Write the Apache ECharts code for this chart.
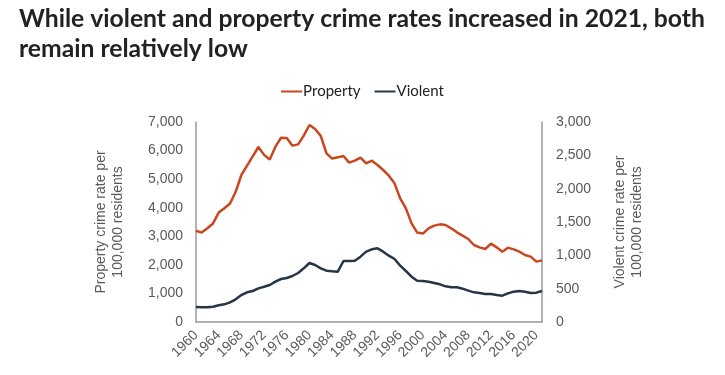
<!DOCTYPE html>
<html>
<head>
<meta charset="utf-8">
<script src="https://cdn.jsdelivr.net/npm/echarts@6/dist/echarts.min.js"></script>
<style>
  html, body { margin: 0; padding: 0; background: #fff; }
  #chart { width: 725px; height: 375px; }
</style>
</head>
<body>
<div id="chart"></div>
<script>
const years = [];
for (let y = 1960; y <= 2021; y++) years.push(String(y));

const property = [
  3190, 3130, 3280, 3450, 3830, 3980, 4150, 4560, 5145, 5470,
  5800, 6125, 5850, 5690, 6137, 6450, 6440, 6172, 6218, 6522,
  6895, 6755, 6510, 5903, 5720, 5763, 5810, 5577, 5647, 5752,
  5553, 5647, 5495, 5320, 5122, 4853, 4328, 3978, 3453, 3130,
  3095, 3278, 3372, 3418, 3395, 3278, 3138, 3022, 2905, 2695,
  2613, 2555, 2742, 2613, 2462, 2602, 2543, 2462, 2345, 2287,
  2112, 2158
];

const violent = [
  225, 220, 220, 230, 250, 265, 295, 340, 405, 445,
  465, 505, 528, 555, 605, 645, 660, 690, 735, 805,
  885, 855, 805, 770, 760, 755, 915, 915, 920, 980,
  1055, 1090, 1105, 1055, 995, 945, 845, 765, 680, 620,
  615, 605, 585, 565, 535, 520, 520, 500, 470, 445,
  435, 420, 420, 405, 395, 430, 455, 465, 455, 435,
  440, 465
];

const titleText = 'While violent and property crime rates increased in 2021, both\nremain relatively low';
const leftAxisName = 'Property crime rate per\n100,000 residents';
const rightAxisName = 'Violent crime rate per\n100,000 residents';

const fmt = v => Number(v).toLocaleString('en-US');
const axisFont = 'Liberation Sans, Arial, sans-serif';

const chart = echarts.init(document.getElementById('chart'), null, { renderer: 'canvas' });
chart.setOption({
  animation: false,
  backgroundColor: '#ffffff',
  title: {
    text: titleText,
    left: 14,
    top: -1,
    textStyle: {
      fontFamily: 'Lato, sans-serif',
      fontWeight: 'bold',
      fontSize: 24.7,
      lineHeight: 30,
      color: '#222222'
    }
  },
  legend: {
    top: 79,
    left: 'center',
    itemWidth: 21,
    itemHeight: 2,
    itemGap: 14,
    icon: 'rect',
    textStyle: { fontFamily: 'Lato, sans-serif', fontSize: 15, color: '#222222', padding: [0, 0, 0, -4] },
    data: ['Property', 'Violent']
  },
  grid: { left: 196, right: 183, top: 122, bottom: 53, containLabel: false },
  xAxis: {
    type: 'category',
    data: years,
    boundaryGap: false,
    axisLine: { show: true, lineStyle: { color: '#999999', width: 1.5 } },
    axisTick: { show: false },
    axisLabel: {
      interval: 3,
      rotate: 45,
      margin: 11,
      fontFamily: axisFont,
      fontSize: 14,
      color: '#595959'
    },
    splitLine: { show: false }
  },
  yAxis: [
    {
      type: 'value',
      min: 0, max: 7000, interval: 1000,
      name: leftAxisName,
      nameLocation: 'middle',
      nameRotate: 90,
      nameGap: 69,
      nameTextStyle: { fontFamily: axisFont, fontSize: 14, color: '#595959', lineHeight: 17 },
      axisLine: { show: true, lineStyle: { color: '#999999', width: 1.5 } },
      axisTick: { show: false },
      splitLine: { show: false },
      axisLabel: { formatter: fmt, fontFamily: axisFont, fontSize: 14, color: '#595959', margin: 13 }
    },
    {
      type: 'value',
      min: 0, max: 3000, interval: 500,
      name: rightAxisName,
      nameLocation: 'middle',
      nameRotate: 90,
      nameGap: 70,
      nameTextStyle: { fontFamily: axisFont, fontSize: 14, color: '#595959', lineHeight: 17 },
      axisLine: { show: true, lineStyle: { color: '#999999', width: 1.5 } },
      axisTick: { show: false },
      splitLine: { show: false },
      axisLabel: { formatter: fmt, fontFamily: axisFont, fontSize: 14, color: '#595959', margin: 14 }
    }
  ],
  series: [
    {
      name: 'Property',
      type: 'line',
      yAxisIndex: 0,
      data: property,
      symbol: 'none',
      color: '#c8471f',
      lineStyle: { width: 2.5, color: '#c8471f' }
    },
    {
      name: 'Violent',
      type: 'line',
      yAxisIndex: 1,
      data: violent,
      symbol: 'none',
      color: '#263548',
      lineStyle: { width: 2.5, color: '#263548' }
    }
  ]
});
</script>
</body>
</html>
